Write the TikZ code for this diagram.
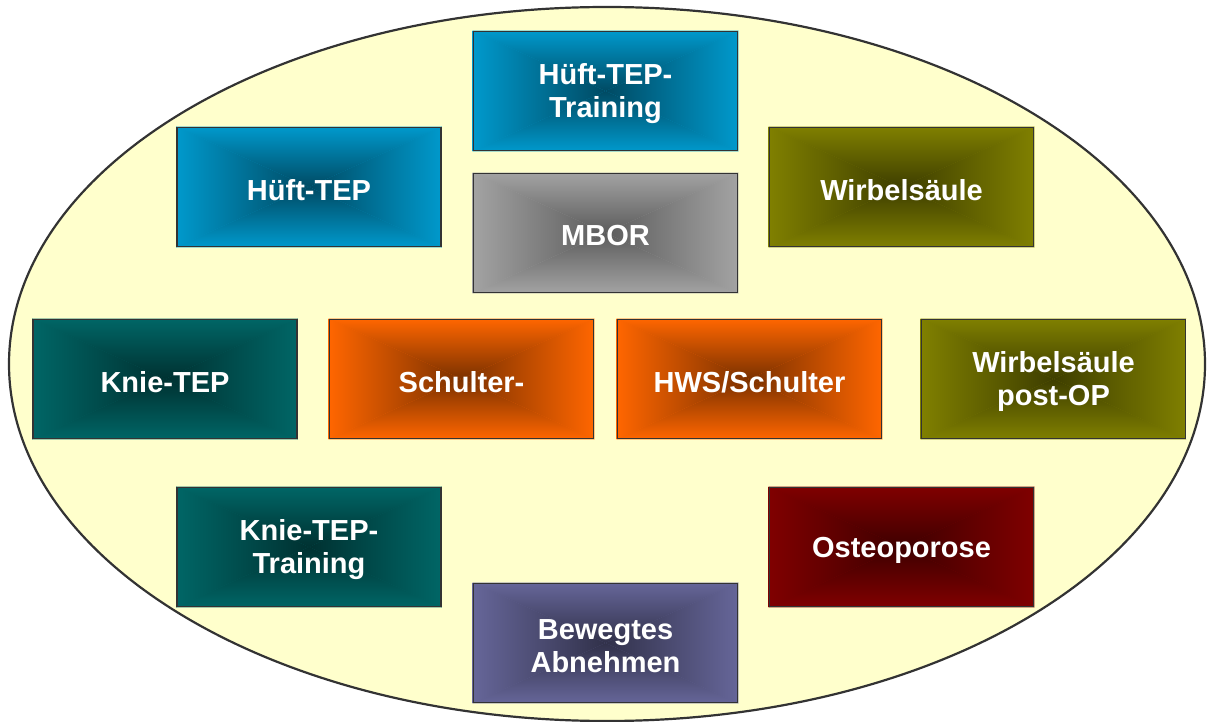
\documentclass[tikz,border=0pt]{standalone}
\usepackage{fontspec}
\setmainfont{Liberation Sans}
\pgfdeclarelayer{bg}
\pgfdeclarelayer{shd}
\pgfsetlayers{bg,shd,main}
\definecolor{ellfill}{HTML}{FFFFCC}
\definecolor{outl}{HTML}{333333}
\definecolor{blueE}{HTML}{0099CC}\definecolor{blueC}{HTML}{004A63}
\definecolor{grayE}{HTML}{A3A3A3}\definecolor{grayC}{HTML}{5C5C5C}
\definecolor{tealE}{HTML}{006666}\definecolor{tealC}{HTML}{003131}
\definecolor{orgE}{HTML}{FF6600}\definecolor{orgC}{HTML}{7A3100}
\definecolor{redE}{HTML}{800000}\definecolor{redC}{HTML}{3E0000}
\definecolor{purE}{HTML}{666699}\definecolor{purC}{HTML}{31314A}
\definecolor{oliE}{HTML}{808000}\definecolor{oliC}{HTML}{3E3E00}
\tikzset{
  box/.style={draw=outl, line width=1.6pt, minimum width=264pt, minimum height=119pt,
    inner sep=0pt},
  lbl/.style={inner sep=0pt, text=white, align=center,
    font=\bfseries\fontsize{29}{33}\selectfont},
}
\newcommand\gbox[5]{%
  \node[box] (#1) at (#2) {};
  \node[lbl] (#1-t) at ([yshift=-3pt]#1.center) {#5};
  \begin{pgfonlayer}{shd}
    \fill[#3] (#1.north west) rectangle (#1.south east);
    \shade[top color=#3, bottom color=#4] (#1.north west) -- (#1.north east) -- (#1.center) -- cycle;
    \shade[bottom color=#3, top color=#4] (#1.south west) -- (#1.south east) -- (#1.center) -- cycle;
    \shade[left color=#3, right color=#4] (#1.north west) -- (#1.south west) -- (#1.center) -- cycle;
    \shade[right color=#3, left color=#4] (#1.north east) -- (#1.south east) -- (#1.center) -- cycle;
  \end{pgfonlayer}%
}
\begin{document}
\begin{tikzpicture}[x=1pt, y=-1pt]
  \useasboundingbox (0,0) rectangle (1208,722);
  \begin{pgfonlayer}{bg}
    \clip (0,0) rectangle (1208,722);
    \draw[outl, fill=ellfill, line width=2.2pt] (607,364) ellipse [x radius=598, y radius=357];
  \end{pgfonlayer}
  \gbox{hufttr}{605.5,91}{blueE}{blueC}{Hüft-TEP-\\Training}
  \gbox{huft}{309,187}{blueE}{blueC}{Hüft-TEP}
  \gbox{wirb}{901.5,187}{oliE}{oliC}{Wirbelsäule}
  \gbox{mbor}{605.5,233}{grayE}{grayC}{MBOR}
  \gbox{knie}{165,379}{tealE}{tealC}{Knie-TEP}
  \gbox{schul}{461.5,379}{orgE}{orgC}{Schulter-}
  \gbox{hws}{749.5,379}{orgE}{orgC}{HWS/Schulter}
  \gbox{wirbop}{1053.5,379}{oliE}{oliC}{Wirbelsäule\\post-OP}
  \gbox{knietr}{309,547}{tealE}{tealC}{Knie-TEP-\\Training}
  \gbox{osteo}{901.5,547}{redE}{redC}{Osteoporose}
  \gbox{bew}{605.5,643}{purE}{purC}{Bewegtes\\Abnehmen}
\end{tikzpicture}
\end{document}
